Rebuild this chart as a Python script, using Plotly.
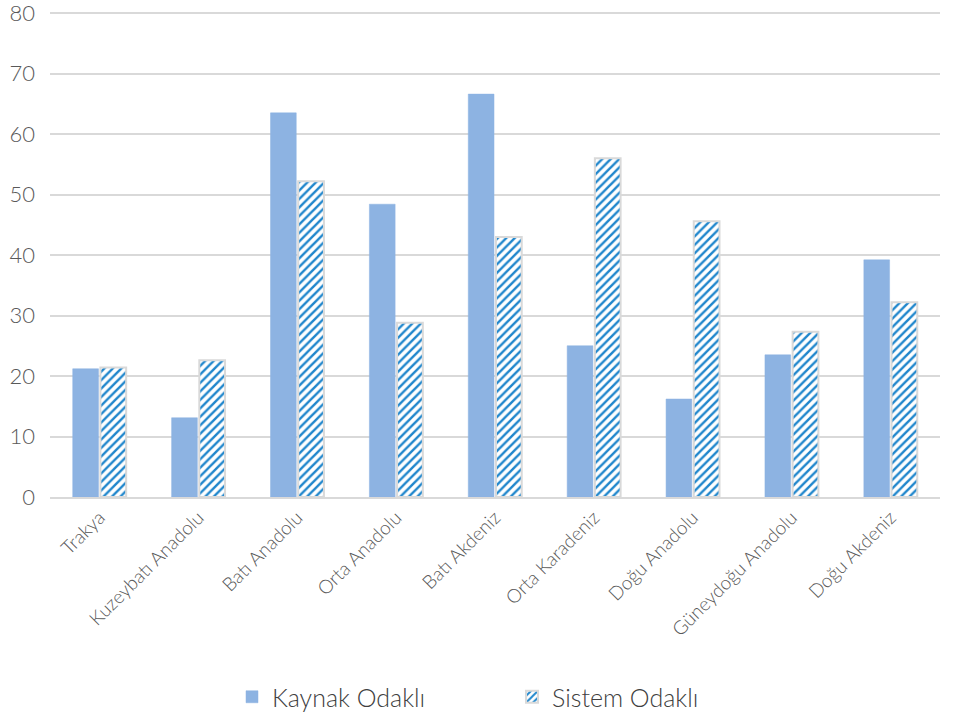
import plotly.graph_objects as go

categories = ["Trakya", "Kuzeybatı Anadolu", "Batı Anadolu", "Orta Anadolu", "Batı Akdeniz",
              "Orta Karadeniz", "Doğu Anadolu", "Güneydoğu Anadolu", "Doğu Akdeniz"]
kaynak = [21.2, 13.1, 63.5, 48.4, 66.6, 25.0, 16.2, 23.5, 39.2]
sistem = [21.4, 22.6, 52.2, 28.8, 43.0, 56.0, 45.6, 27.3, 32.2]
y_ticks = [0, 10, 20, 30, 40, 50, 60, 70, 80]

FONT = "Lato"
fig = go.Figure()
fig.add_trace(go.Bar(
    x=categories, y=kaynak, name="Kaynak Odaklı",
    marker=dict(color="#8DB3E2", line=dict(color="#8DB3E2", width=0.5)),
))
fig.add_trace(go.Bar(
    x=categories, y=sistem, name="Sistem Odaklı",
    marker=dict(color="white", line=dict(color="#D9D9D9", width=2),
                pattern=dict(shape="/", fgcolor="#1F86CC", bgcolor="white", size=6,
                             solidity=0.4, fgopacity=1)),
))
fig.update_layout(
    width=959, height=720,
    margin=dict(l=50, r=19, t=7, b=223),
    paper_bgcolor="white", plot_bgcolor="white",
    barmode="group", bargap=0.44, bargroupgap=0.07,
    font=dict(family=FONT, color="#595959"),
    showlegend=True,
    legend=dict(orientation="h", x=(232 - 50) / 890, xanchor="left",
                yref="container", y=(720 - 697) / 720, yanchor="middle",
                font=dict(size=25, color="#404040", family=FONT, weight=300),
                entrywidth=235, entrywidthmode="pixels", traceorder="normal"),
    xaxis=dict(tickangle=-45, tickfont=dict(size=19, color="#595959", family=FONT, weight=300),
               showline=True, linecolor="#D9D9D9", linewidth=2, showgrid=False, ticks="",
               automargin=False),
    yaxis=dict(range=[0, 81], tickvals=y_ticks, showgrid=True, gridcolor="#D9D9D9", gridwidth=2,
               zeroline=False, showline=False, ticks="", automargin=False,
               ticklabeloverflow="allow",
               tickfont=dict(size=22, color="#595959", family=FONT, weight=300), ticklabelstandoff=14),
)
fig.write_html("out.html")
